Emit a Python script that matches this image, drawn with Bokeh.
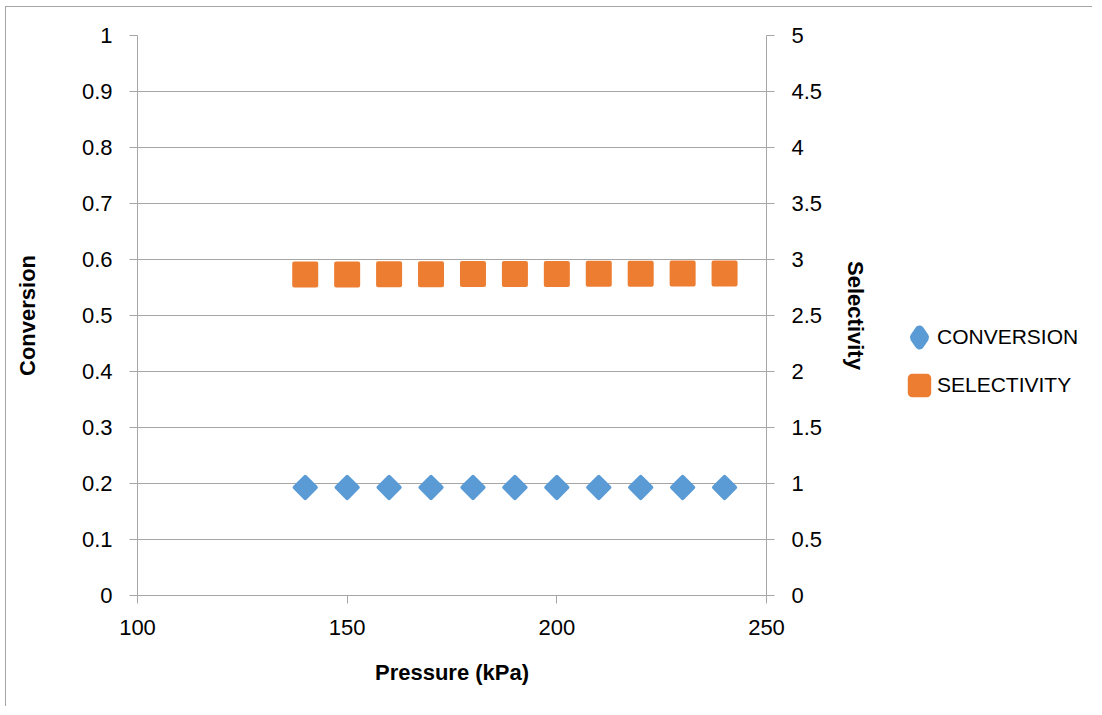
from bokeh.plotting import figure
from bokeh.layouts import row
from bokeh.models import (Range1d, LinearAxis, SingleIntervalTicker, CustomJSTickFormatter,
                          Legend, LegendItem, ColumnDataSource)
from bokeh.embed import file_html
from bokeh.resources import INLINE

# ---- data ----
pressure = [140, 150, 160, 170, 180, 190, 200, 210, 220, 230, 240]
conversion = [0.193, 0.193, 0.193, 0.193, 0.193, 0.193, 0.193, 0.193, 0.193, 0.193, 0.193]
selectivity = [2.866, 2.867, 2.868, 2.869, 2.870, 2.870, 2.871, 2.872, 2.873, 2.874, 2.875]
series_names = ["CONVERSION", "SELECTIVITY"]

BLUE = "#5B9BD5"
ORANGE = "#ED7D31"
GRID = "#A6A6A6"
FONT = "Liberation Sans"

MAIN_W = 874
p = figure(width=MAIN_W, height=699, output_backend="svg", toolbar_location=None,
           x_range=Range1d(100, 250), y_range=Range1d(0, 1),
           min_border_left=131, min_border_right=MAIN_W - 131 - 629,
           min_border_top=28, min_border_bottom=111)
p.extra_y_ranges = {"sel": Range1d(0, 5)}
p.outline_line_color = None
p.background_fill_color = "white"
p.border_fill_color = "white"

fmt = CustomJSTickFormatter(code="return (Math.round(tick*10)/10).toString();")

def style_axis(ax, label):
    ax.axis_label = label
    ax.axis_label_text_font = FONT
    ax.axis_label_text_font_style = "bold"
    ax.axis_label_text_font_size = "22px"
    ax.axis_label_text_color = "black"
    ax.major_label_text_font = FONT
    ax.major_label_text_font_size = "22px"
    ax.major_label_text_color = "black"
    ax.axis_line_color = GRID
    ax.major_tick_line_color = GRID
    ax.major_tick_in = 0
    ax.major_tick_out = 8
    ax.minor_tick_line_color = None
    ax.formatter = fmt

xa = p.xaxis[0]
xa.ticker = SingleIntervalTicker(interval=50, num_minor_ticks=0)
style_axis(xa, "Pressure (kPa)")
xa.major_label_standoff = 16
xa.axis_label_standoff = 22

ya = p.yaxis[0]
ya.ticker = SingleIntervalTicker(interval=0.1, num_minor_ticks=0)
style_axis(ya, "Conversion")
ya.major_label_standoff = 17
ya.axis_label_standoff = 39

yr = LinearAxis(y_range_name="sel", ticker=SingleIntervalTicker(interval=0.5, num_minor_ticks=0))
style_axis(yr, "Selectivity")
yr.major_label_standoff = 17
yr.axis_label_standoff = 18
p.add_layout(yr, "right")

p.xgrid.grid_line_color = None
p.ygrid.grid_line_color = GRID
p.ygrid.ticker = ya.ticker

src = ColumnDataSource(dict(x=pressure, conv=conversion, sel=selectivity))

p.scatter("x", "conv", source=src, marker="square", angle=0.785398, size=15,
          fill_color=BLUE, line_color=BLUE, line_width=4, line_join="round")
p.scatter("x", "sel", source=src, marker="square", size=22, y_range_name="sel",
          fill_color=ORANGE, line_color=ORANGE, line_width=4, line_join="round")

# ---- legend panel (separate figure to the right) ----
LEG_W = 1086 - MAIN_W
lf = figure(width=LEG_W, height=699, output_backend="svg", toolbar_location=None,
            x_range=Range1d(100, 250), y_range=Range1d(10, 20),
            x_axis_type=None, y_axis_type=None,
            min_border_left=0, min_border_right=0, min_border_top=0, min_border_bottom=0)
lf.outline_line_color = None
lf.xgrid.grid_line_color = None
lf.ygrid.grid_line_color = None
lf.background_fill_color = "white"
lf.border_fill_color = "white"

# proxies: same data, plotted on a range that keeps them out of view; only their legend glyphs show
lc = lf.scatter("x", "conv", source=src, marker="diamond",
                fill_color=BLUE, line_color=BLUE, line_width=9.6, line_join="round")
ls = lf.scatter("x", "conv", source=src, marker="square",
                fill_color=ORANGE, line_color=ORANGE, line_width=9, line_join="round")

leg = Legend(items=[LegendItem(label=series_names[0], renderers=[lc]),
                    LegendItem(label=series_names[1], renderers=[ls])],
             location=(21, 192), orientation="vertical",
             glyph_width=36, glyph_height=36, label_height=36, label_standoff=0,
             spacing=12, padding=0, margin=0, label_text_font=FONT,
             label_text_font_size="21px", label_text_color="black",
             background_fill_alpha=0, border_line_color=None)
lf.add_layout(leg, "center")

layout = row(p, lf, styles={"border-top": "1px solid #A6A6A6", "border-left": "1px solid #A6A6A6",
                            "margin-left": "5px", "margin-top": "6px"})

open("out.html", "w").write(file_html(layout, INLINE))
